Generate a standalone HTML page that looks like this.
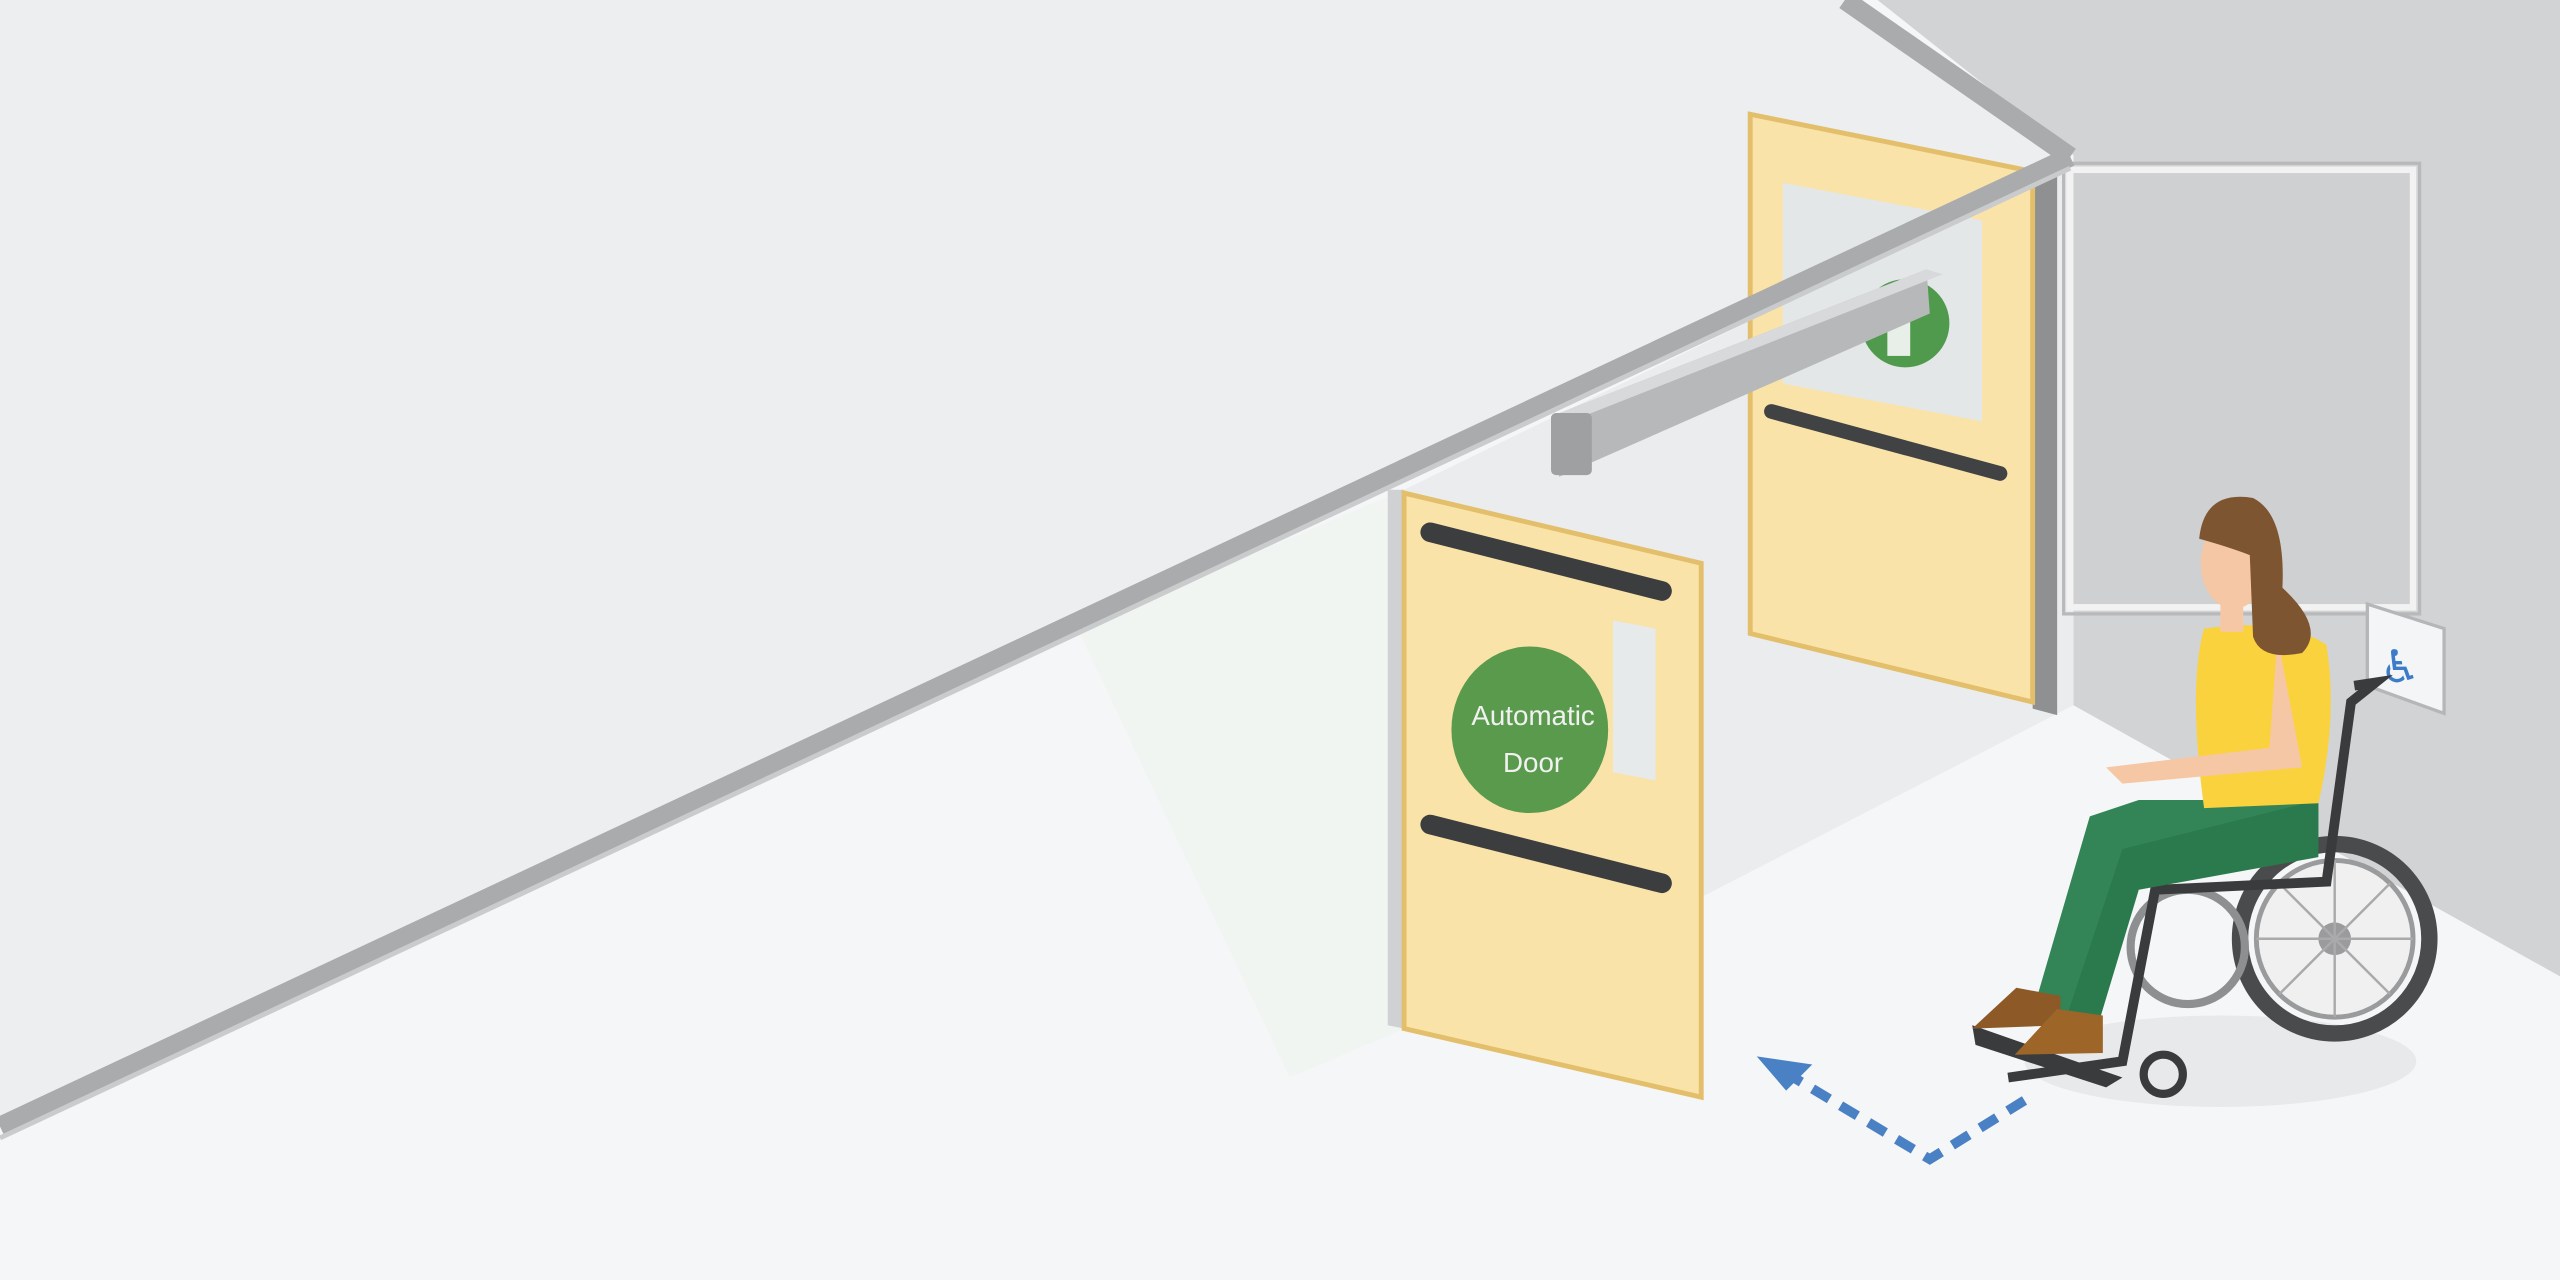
<!DOCTYPE html>
<html><head><meta charset="utf-8"><style>html,body{margin:0;padding:0;background:#f5f6f7}svg{display:block}</style></head>
<body>
<svg width="2560" height="1280" viewBox="0 0 1568 784" xmlns="http://www.w3.org/2000/svg">
<rect width="1568" height="784" fill="#f5f6f7"/>
<polygon points="0,0 1130,0 1265,95 0,690" fill="#eceef0"/>
<polygon points="1150,0 1568,0 1568,598 1270,432 1270,95" fill="#d2d3d4"/>
<polygon points="860,300 1270,100 1270,432 1045,548 860,630" fill="#ebeced"/>
<polygon points="660,385 860,300 860,630 790,660" fill="#eef3ee" opacity="0.5"/>
<rect x="1268" y="104" width="210" height="268" fill="#cfd0d1" stroke="#f2f2f2" stroke-width="4"/>
<rect x="1264" y="100" width="218" height="276" fill="none" stroke="#b8b9ba" stroke-width="2"/>
<polygon points="1245,110 1260,105 1260,438 1245,434" fill="#8e9091"/>
<polygon points="1072,70 1245,105 1245,430 1072,388" fill="#fae3a9" stroke="#e3bf6c" stroke-width="3"/>
<polygon points="1092,112 1214,135 1214,258 1092,235" fill="#e3e7e8"/>
<circle cx="1167" cy="198" r="27" fill="#4f9a4d"/>
<rect x="1156" y="196" width="14" height="22" fill="#e8eee8"/>
<line x1="1085" y1="252" x2="1225" y2="290" stroke="#404244" stroke-width="9" stroke-linecap="round"/>
<polygon points="950,255 1180,165 1182,192 955,292" fill="#b7b8b9"/>
<polygon points="950,255 1180,165 1190,168 962,258" fill="#d8d9da"/>
<rect x="950" y="253" width="25" height="38" rx="3" fill="#9ea0a1"/>
<line x1="0" y1="690" x2="1268" y2="96" stroke="#a9abac" stroke-width="12"/>
<line x1="1130" y1="0" x2="1268" y2="96" stroke="#a9abac" stroke-width="12"/>
<line x1="0" y1="697" x2="1268" y2="103" stroke="#c9cbcc" stroke-width="3"/>
<polygon points="850,300 860,300 860,630 850,628" fill="#cfd1d2"/>
<polygon points="860,302 1042,345 1042,672 860,630" fill="#fae3a9" stroke="#e3bf6c" stroke-width="3"/>
<polygon points="988,380 1014,385 1014,478 988,473" fill="#e6eaeb"/>
<line x1="876" y1="326" x2="1018" y2="362" stroke="#3b3d3f" stroke-width="12" stroke-linecap="round"/>
<line x1="876" y1="505" x2="1018" y2="541" stroke="#3b3d3f" stroke-width="12" stroke-linecap="round"/>
<ellipse cx="937" cy="447" rx="48" ry="51" fill="#5a9a4d"/>
<text x="939" y="444" font-family="Liberation Sans, sans-serif" font-size="17" fill="#f1f1f1" text-anchor="middle">Automatic</text>
<text x="939" y="473" font-family="Liberation Sans, sans-serif" font-size="17" fill="#f1f1f1" text-anchor="middle">Door</text>
<polygon points="1450,370 1497,385 1497,437 1450,420" fill="#f4f5f6" stroke="#b5b6b7" stroke-width="2"/>
<text x="1470" y="418" font-family="DejaVu Sans, sans-serif" font-size="28" fill="#3d7cc9" text-anchor="middle">♿</text>
<polyline points="1240,674 1182,710 1092,656" fill="none" stroke="#4a80c4" stroke-width="6" stroke-dasharray="12,8"/>
<polygon points="1076,647 1110,652 1094,668" fill="#4a80c4"/>
<ellipse cx="1360" cy="650" rx="120" ry="28" fill="#e8e9ea"/>
<circle cx="1430" cy="575" r="58" fill="none" stroke="#4a4b4c" stroke-width="10"/>
<circle cx="1430" cy="575" r="48" fill="#f0f0f0" stroke="#9a9b9c" stroke-width="3"/>
<circle cx="1430" cy="575" r="10" fill="#9a9b9c"/>
<g stroke="#aaa" stroke-width="1.5">
<line x1="1382" y1="575" x2="1478" y2="575"/><line x1="1430" y1="527" x2="1430" y2="623"/>
<line x1="1396" y1="541" x2="1464" y2="609"/><line x1="1464" y1="541" x2="1396" y2="609"/>
</g>
<circle cx="1340" cy="580" r="35" fill="none" stroke="#8e8f90" stroke-width="5"/>
<circle cx="1325" cy="658" r="12" fill="none" stroke="#3a3b3c" stroke-width="5"/>
<path d="M1442,420 L1455,418 L1440,430 L1425,540 L1320,545 L1300,650 L1230,660" fill="none" stroke="#3a3b3c" stroke-width="6"/>
<path d="M1208,628 L1300,660 L1290,666 L1210,640Z" fill="#3a3b3c"/>
<path d="M1420,490 L1310,490 L1280,500 L1245,620 L1275,625 L1300,540 L1420,520Z" fill="#338557"/>
<path d="M1420,490 L1300,520 L1265,625 L1285,628 L1310,545 L1420,525Z" fill="#2b7a4e"/>
<path d="M1235,605 L1262,610 L1262,628 L1208,630Z" fill="#8d5a27"/>
<path d="M1260,618 L1288,622 L1288,645 L1234,646Z" fill="#9d6628"/>
<path d="M1350,385 Q1340,420 1350,495 L1420,492 Q1432,440 1425,395 Q1400,378 1350,385Z" fill="#fad23e"/>
<path d="M1395,390 L1410,470 L1300,480 L1290,470 L1390,458Z" fill="#f6c7a4"/>
<ellipse cx="1368" cy="345" rx="20" ry="28" fill="#f6c7a4"/>
<rect x="1360" y="365" width="14" height="22" fill="#f6c7a4"/>
<path d="M1347,330 Q1350,300 1380,305 Q1400,315 1398,360 Q1425,385 1410,400 Q1385,405 1380,390 L1378,340 Q1365,335 1347,330Z" fill="#7e5531"/>
</svg>
</body></html>
